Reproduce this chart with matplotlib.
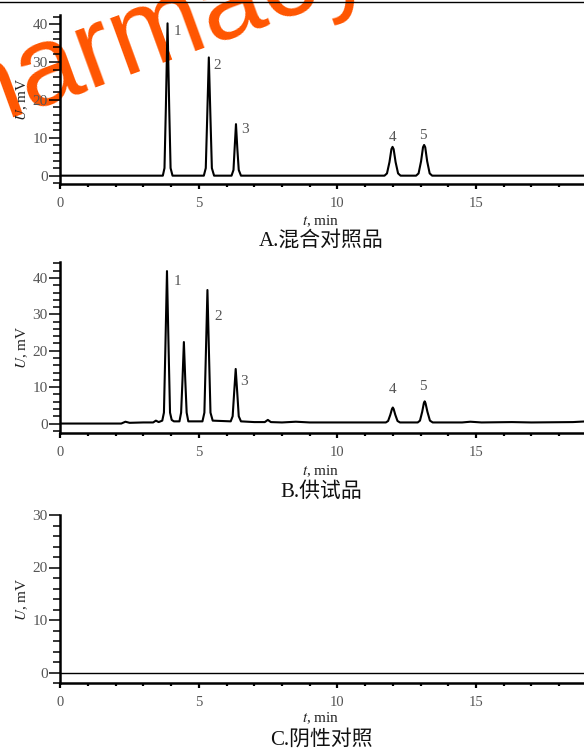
import matplotlib
matplotlib.use('Agg')
import matplotlib.pyplot as plt
from matplotlib.ticker import MultipleLocator
from matplotlib.lines import Line2D

plt.rcParams['font.family'] = ['Liberation Serif', 'Noto Sans CJK SC']
plt.rcParams['mathtext.fontset'] = 'stix'

# chromatogram A: mixed reference (t in min, U in mV)
t_a = [0, 3.70, 3.76, 3.81, 3.87, 3.93, 3.98, 4.05,
       5.18, 5.25, 5.30, 5.36, 5.42, 5.47, 5.55,
       6.18, 6.25, 6.29, 6.34, 6.39, 6.44, 6.52,
       11.70, 11.79, 11.88, 11.95, 11.99, 12.03, 12.10, 12.19, 12.28,
       12.84, 12.93, 13.02, 13.09, 13.13, 13.17, 13.24, 13.33, 13.42, 19]
u_a = [0, 0, 2, 18, 40.2, 18, 2, 0,
       0, 2, 15, 31.2, 15, 2, 0,
       0, 1.5, 7, 13.6, 7, 1.5, 0,
       0, 0.6, 3.6, 7.0, 7.6, 7.0, 3.6, 0.6, 0,
       0, 0.6, 3.8, 7.5, 8.1, 7.5, 3.8, 0.6, 0, 0]

# chromatogram B: test sample
t_b = [0, 2.2, 2.35, 2.5, 3.0, 3.35, 3.45, 3.55, 3.68, 3.74, 3.79, 3.85, 3.91, 3.96, 4.02,
       4.10, 4.30, 4.36, 4.41, 4.46, 4.51, 4.56, 4.62,
       5.13, 5.20, 5.25, 5.31, 5.37, 5.42, 5.50,
       6.15, 6.22, 6.27, 6.33, 6.39, 6.44, 6.52,
       7.00, 7.38, 7.49, 7.60, 8.0, 8.5, 9.0,
       11.75, 11.83, 11.91, 11.97, 12.0, 12.03, 12.09, 12.17, 12.26,
       12.90, 12.98, 13.06, 13.12, 13.15, 13.18, 13.25, 13.34, 13.44,
       14.5, 14.8, 15.2, 16.3, 17.0, 18.5, 19]
u_b = [0, 0, 0.5, 0.2, 0.3, 0.3, 0.8, 0.4, 0.8, 3, 20, 41.9, 20, 3, 1.0,
       0.6, 0.6, 3, 12, 22.4, 12, 3, 0.6,
       0.6, 3, 18, 36.7, 18, 3, 0.8,
       0.6, 2, 8, 15.0, 8, 2, 0.6,
       0.4, 0.4, 1.0, 0.4, 0.3, 0.5, 0.3,
       0.3, 0.7, 2.4, 4.0, 4.4, 4.0, 2.4, 0.7, 0.3,
       0.3, 0.8, 3.2, 5.6, 6.1, 5.6, 3.2, 0.8, 0.3,
       0.3, 0.5, 0.3, 0.4, 0.3, 0.4, 0.6]

# chromatogram C: negative control
t_c = [0, 19]
u_c = [0, 0]

peak_names = ['1', '2', '3', '4', '5']
lab_t_a = [4.24, 5.68, 6.65, 12.0, 13.1]
lab_u_a = [38.0, 29.2, 12.3, 10.1, 10.7]
lab_t_b = [4.23, 5.69, 6.63, 12.0, 13.09]
lab_u_b = [39.1, 29.4, 11.6, 9.3, 10.2]

titles = ['A.混合对照品', 'B.供试品', 'C.阴性对照']

fig = plt.figure(figsize=(5.84, 7.5), dpi=100)

grey = '#555555'
left = 60.3 / 584
width = 1 - left

# (top px, bottom px, ymin, ymax, yticks top, x, y, line width)
panels = [(15, 184, -2.2, 42.4, 40, t_a, u_a, 1.5),
          (262, 433, -2.6, 44.4, 40, t_b, u_b, 1.5),
          (515, 683, -2.0, 30.0, 30, t_c, u_c, 1.0)]
xlab_y = [221, 471, 718]
title_y = [241, 492, 740]

axes = []
for i, (top, bot, ymin, ymax, ytop, tt, uu, lw) in enumerate(panels):
    ax = fig.add_axes([left, 1 - bot / 750, width, (bot - top) / 750])
    ax.patch.set_visible(False)
    ax.plot(tt, uu, color='black', lw=lw)
    ax.set_xlim(0, 18.9)
    ax.set_ylim(ymin, ymax)
    for s in ['top', 'right']:
        ax.spines[s].set_visible(False)
    for s in ['left', 'bottom']:
        ax.spines[s].set_linewidth(1.8)
    ax.set_xticks([0, 5, 10, 15])
    ax.xaxis.set_minor_locator(MultipleLocator(1))
    ax.set_yticks(list(range(0, ytop + 1, 10)))
    ax.yaxis.set_minor_locator(MultipleLocator(2))
    ax.tick_params(axis='x', which='major', direction='out', length=3.5, width=1.6,
                   labelsize=10.5, labelcolor=grey, pad=6)
    ax.tick_params(axis='x', which='minor', direction='out', length=1.8, width=1.6)
    ax.tick_params(axis='y', which='major', direction='out', length=8, width=1.1,
                   labelsize=11, labelcolor=grey, pad=1)
    ax.tick_params(axis='y', which='minor', direction='out', length=5, width=1.1)
    ax.set_ylabel('$U$, mV', fontsize=11, color='#222222', labelpad=2)
    fig.text(0.55, 1 - xlab_y[i] / 750, '$t$, min', fontsize=11, color='#222222',
             ha='center', va='center')
    fig.text(0.55, 1 - title_y[i] / 750, titles[i], fontsize=15, color='#111111',
             ha='center', va='center')
    axes.append(ax)

for ax, lt, lu in [(axes[0], lab_t_a, lab_u_a), (axes[1], lab_t_b, lab_u_b)]:
    for name, x, y in zip(peak_names, lt, lu):
        ax.text(x, y, name, fontsize=11, color=grey, ha='center', va='center')

# rule across the top of the page
fig.add_artist(Line2D([0, 1], [1 - 2 / 750, 1 - 2 / 750], color='black', lw=1.0))

# watermark, sits under the plot
fig.text(-88 / 584, 1 - 151 / 750, 'pharmacy', fontsize=81, color='#ff5500',
         family='Liberation Sans', rotation=20, rotation_mode='anchor',
         ha='left', va='baseline', zorder=-1)

fig.savefig('out.png', dpi=100)
